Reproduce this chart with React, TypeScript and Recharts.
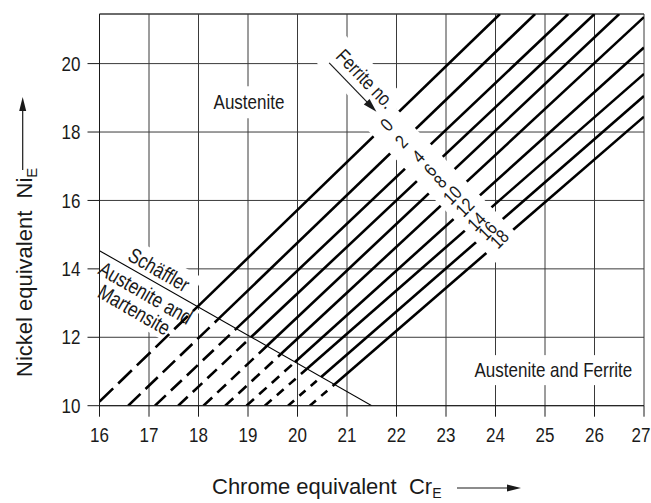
import { ComposedChart, Line, XAxis, YAxis, CartesianGrid, ReferenceLine, ReferenceDot, Label } from "recharts"

const SANS = "'Liberation Sans', Arial, sans-serif"
const INK = "#1a1a1a"
const GRID = "#3a3a3a"
// the picture uses a condensed face; squeeze the regular one
const SQUEEZE = 0.81

// ferrite number lines, each read as a start point (bottom / left edge) and an end point (top / right edge)
const FERRITE_NO = [0, 2, 4, 6, 8, 10, 12, 14, 16, 18]
const FN_START_X = [16, 16.58, 17.12, 17.59, 18.1, 18.54, 18.97, 19.34, 19.81, 20.25]
const FN_START_Y = [10.12, 10, 10, 10, 10, 10, 10, 10, 10, 10]
const FN_END_X = [24.09, 24.8, 25.47, 26.0, 26.5, 27, 27, 27, 27, 27]
const FN_END_Y = [21.45, 21.45, 21.45, 21.45, 21.45, 21.36, 20.47, 19.7, 19.05, 18.45]

// where the ferrite numbers sit on their lines
const FN_LABEL_X = [21.8, 22.1, 22.44, 22.68, 22.88, 23.13, 23.38, 23.62, 23.84, 24.08]
const FN_LABEL_Y = [18.21, 17.72, 17.28, 16.89, 16.55, 16.16, 15.8, 15.38, 15.12, 14.87]

// Schäffler boundary (austenite + martensite below it)
const SCHAEFFLER_X = [16, 21.5]
const SCHAEFFLER_Y = [14.53, 10]

const X_TICKS = [16, 17, 18, 19, 20, 21, 22, 23, 24, 25, 26, 27]
const Y_TICKS = [10, 12, 14, 16, 18, 20]
const Y_TOP = 21.45

const REGION_TEXT = ["Austenite", "Austenite and Ferrite"]
const REGION_X = [19.02, 25.17]
const REGION_Y = [18.87, 11.04]

const SCH_TEXT = ["Schäffler", "Austenite and", "Martensite"]
const SCH_X = [17.2, 16.93, 16.7]
const SCH_Y = [13.97, 13.29, 12.8]

// start of the "Ferrite no." arrow
const FN_TITLE_X = 20.64
const FN_TITLE_Y = 20.02

// styling only
const REGION_BOX = [[84, 32], [170, 30]]
const SCH_BOX = [[84, 30], [112, 24], [88, 24]]
const DASHES = ["19 7", "17 7", "15 7", "13 7", "12 7", "11 7", "10 7", "9 7", "8 7", "8 7"]

type Pt = { x: number; y: number }

// below the Schäffler line the ferrite lines are dashed
function crossing(k: number): Pt {
  const s = (FN_END_Y[k] - FN_START_Y[k]) / (FN_END_X[k] - FN_START_X[k])
  const m = (SCHAEFFLER_Y[1] - SCHAEFFLER_Y[0]) / (SCHAEFFLER_X[1] - SCHAEFFLER_X[0])
  const x = (SCHAEFFLER_Y[0] - m * SCHAEFFLER_X[0] - FN_START_Y[k] + s * FN_START_X[k]) / (s - m)
  return { x, y: FN_START_Y[k] + s * (x - FN_START_X[k]) }
}

const dashedParts = FERRITE_NO.map((_, k) => [{ x: FN_START_X[k], y: FN_START_Y[k] }, crossing(k)])
const solidParts = FERRITE_NO.map((_, k) => [crossing(k), { x: FN_END_X[k], y: FN_END_Y[k] }])
const schaefflerData = SCHAEFFLER_X.map((x, i) => ({ x, y: SCHAEFFLER_Y[i] }))

const boxedText = (text: string, w: number, h: number, angle: number) => (props: any) => (
  <g transform={`translate(${props.cx},${props.cy}) rotate(${angle})`}>
    <rect x={-w / 2} y={-h / 2} width={w} height={h} fill="#fff" />
    <text
      transform={`scale(${SQUEEZE},1)`}
      textAnchor="middle"
      dominantBaseline="central"
      fontFamily={SANS}
      fontSize={21}
      fill={INK}
    >
      {text}
    </text>
  </g>
)

const numberText = (text: string) => (props: any) => (
  <text
    transform={`translate(${props.cx},${props.cy}) rotate(-45) scale(${SQUEEZE},1)`}
    textAnchor="middle"
    dominantBaseline="central"
    fontFamily={SANS}
    fontSize={19}
    fill={INK}
  >
    {text}
  </text>
)

// white strip that breaks the lines, with the "Ferrite no." pointer
const FerriteBand = (props: any) => (
  <g transform={`translate(${props.cx},${props.cy}) rotate(46)`}>
    <rect x={-8} y={-31} width={88} height={40} fill="#fff" />
    <rect x={70} y={-16.5} width={192} height={35.5} fill="#fff" />
    <line x1={0} y1={0} x2={56} y2={0} stroke={INK} strokeWidth={1.2} />
    <polygon points="68,0 54,-4 54,4" fill={INK} />
    <text
      transform={`translate(36.7,-14.6) scale(${SQUEEZE},1)`}
      textAnchor="middle"
      dominantBaseline="central"
      fontFamily={SANS}
      fontSize={20}
      fill={INK}
    >
      Ferrite no.
    </text>
  </g>
)

const XTick = (props: any) => {
  const { x, y, payload } = props
  // keep the last label inside the page
  const cx = Math.min(x, 651 - 10)
  return (
    <text
      transform={`translate(${cx},${y}) scale(${SQUEEZE},1)`}
      textAnchor="middle"
      dy="0.71em"
      fontFamily={SANS}
      fontSize={21}
      fill={INK}
    >
      {payload.value}
    </text>
  )
}

const YTick = (props: any) => {
  const { x, y, payload } = props
  return (
    <text
      transform={`translate(${x},${y}) scale(${SQUEEZE},1)`}
      textAnchor="end"
      dominantBaseline="central"
      fontFamily={SANS}
      fontSize={21}
      fill={INK}
    >
      {payload.value}
    </text>
  )
}

const XTitle = () => (
  <g>
    <text x={212} y={494} fontFamily={SANS} fontSize={22} fill={INK}>
      Chrome equivalent{"\u00a0\u00a0"}Cr
      <tspan dy={4} fontSize={14}>E</tspan>
    </text>
    <line x1={457} y1={488} x2={508} y2={488} stroke={INK} strokeWidth={1.2} />
    <polygon points="521,488 507,484.5 507,491.5" fill={INK} />
  </g>
)

const YTitle = () => (
  <g>
    <text transform="translate(32,377) rotate(-90)" fontFamily={SANS} fontSize={22} fill={INK}>
      Nickel equivalent{"\u00a0\u00a0"}Ni
      <tspan dy={5} fontSize={15}>E</tspan>
    </text>
    <line x1={22.7} y1={170} x2={22.7} y2={110} stroke={INK} strokeWidth={1.2} />
    <polygon points="22.7,97 19.2,111 26.2,111" fill={INK} />
  </g>
)

export default function App() {
  return (
    <div style={{ position: "absolute", left: 0, top: 0, width: 651, height: 503, background: "#fff" }}>
      <ComposedChart width={651} height={503} margin={{ top: 14, right: 7, bottom: 57.3, left: 0 }}>
        <CartesianGrid stroke={GRID} strokeWidth={1} />
        <XAxis
          type="number"
          dataKey="x"
          domain={[16, 27]}
          ticks={X_TICKS}
          interval={0}
          allowDataOverflow
          height={40}
          tickSize={11}
          tickMargin={10}
          tick={XTick}
          axisLine={{ stroke: INK }}
          tickLine={{ stroke: INK }}
        >
          <Label content={XTitle} />
        </XAxis>
        <YAxis
          type="number"
          domain={[10, Y_TOP]}
          ticks={Y_TICKS}
          interval={0}
          allowDataOverflow
          width={99.5}
          tickSize={12}
          tickMargin={7}
          tick={YTick}
          axisLine={{ stroke: INK }}
          tickLine={{ stroke: INK }}
        >
          <Label content={YTitle} />
        </YAxis>
        <ReferenceLine y={Y_TOP} stroke={GRID} ifOverflow="visible" />

        {REGION_TEXT.map((t, i) => (
          <ReferenceDot
            key={`region-${t}`}
            x={REGION_X[i]}
            y={REGION_Y[i]}
            zIndex={50}
            shape={boxedText(t, REGION_BOX[i][0], REGION_BOX[i][1], 0)}
          />
        ))}
        {SCH_TEXT.map((t, i) => (
          <ReferenceDot
            key={`sch-${t}`}
            x={SCH_X[i]}
            y={SCH_Y[i]}
            zIndex={50}
            shape={boxedText(t, SCH_BOX[i][0], SCH_BOX[i][1], 30)}
          />
        ))}

        {FERRITE_NO.map((fn, k) => (
          <Line
            key={`dash-${fn}`}
            data={dashedParts[k]}
            dataKey="y"
            type="linear"
            stroke="#000"
            strokeWidth={2.6}
            strokeDasharray={DASHES[k]}
            dot={false}
            activeDot={false}
            isAnimationActive={false}
          />
        ))}
        {FERRITE_NO.map((fn, k) => (
          <Line
            key={`solid-${fn}`}
            data={solidParts[k]}
            dataKey="y"
            type="linear"
            stroke="#000"
            strokeWidth={2.6}
            dot={false}
            activeDot={false}
            isAnimationActive={false}
          />
        ))}
        <Line
          data={schaefflerData}
          dataKey="y"
          type="linear"
          stroke="#000"
          strokeWidth={1.1}
          dot={false}
          activeDot={false}
          isAnimationActive={false}
        />

        <ReferenceDot x={FN_TITLE_X} y={FN_TITLE_Y} zIndex={1500} shape={FerriteBand} />
        {FERRITE_NO.map((fn, k) => (
          <ReferenceDot
            key={`fn-${fn}`}
            x={FN_LABEL_X[k]}
            y={FN_LABEL_Y[k]}
            zIndex={1600}
            shape={numberText(String(fn))}
          />
        ))}
      </ComposedChart>
    </div>
  )
}
